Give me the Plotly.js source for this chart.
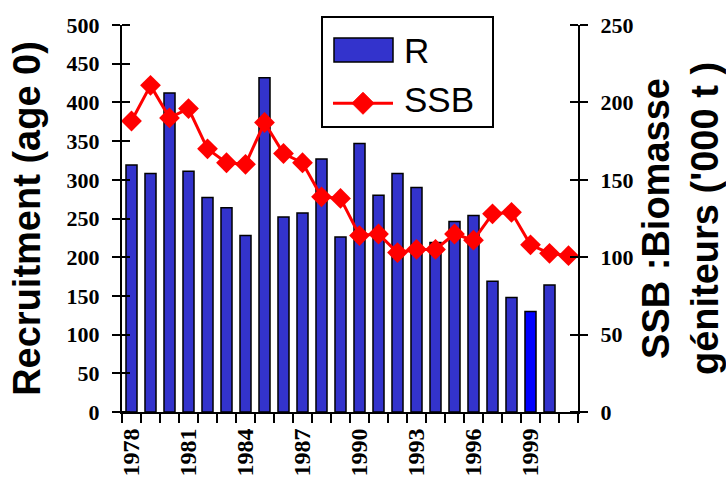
<!DOCTYPE html>
<html>
<head>
<meta charset="utf-8">
<script src="https://cdn.plot.ly/plotly-3.0.1.min.js"></script>
<style>html,body{margin:0;padding:0;background:#fff;}#chart{width:726px;height:477px;}</style>
</head>
<body>
<div id="chart"></div>
<script>
// Recruitment (age 0), 1978-2000
const recruitYears = [1978,1979,1980,1981,1982,1983,1984,1985,1986,1987,1988,1989,1990,1991,1992,1993,1994,1995,1996,1997,1998,1999,2000];
const recruitValues = [319,308,412,311,277,264,228,432,252,257,327,226,347,280,308,290,219,246,254,169,148,130,164];
// SSB ('000 t), 1978-2001
const ssbYears = [1978,1979,1980,1981,1982,1983,1984,1985,1986,1987,1988,1989,1990,1991,1992,1993,1994,1995,1996,1997,1998,1999,2000,2001];
const ssbValues = [188,211,190,196,170,161,160,187,167,161,139,138,114,115,103,105,105,115,111,128,129,108,102.5,101];
const xTickVals = [1978,1981,1984,1987,1990,1993,1996,1999];
const xTickText = ['1978','1981','1984','1987','1990','1993','1996','1999'];
const seriesNames = ['R', 'SSB'];
const barColors = recruitYears.map(y => y === 1999 ? '#0000ff' : '#3333cc');

const BAR_COLOR = '#3333cc';
const LINE_COLOR = '#ff0000';
const tickFont = {family: '"Liberation Serif", "Times New Roman", serif', size: 22, color: '#000', weight: 'bold'};
const xTickFont = {family: '"Liberation Serif", "Times New Roman", serif', size: 24, color: '#000', weight: 'bold'};
const titleFont = {family: '"Liberation Sans", Arial, sans-serif', size: 38, color: '#000', weight: 'bold'};
const legendFont = {family: '"Liberation Sans", Arial, sans-serif', size: 35, color: '#000'};

const traces = [
  {
    type: 'bar', name: seriesNames[0], x: recruitYears, y: recruitValues,
    marker: {color: barColors, line: {color: '#000', width: 1.5}},
    width: 0.58, yaxis: 'y'
  },
  {
    type: 'scatter', mode: 'lines+markers', name: seriesNames[1], x: ssbYears, y: ssbValues,
    line: {color: LINE_COLOR, width: 3},
    marker: {symbol: 'diamond', size: 16, color: LINE_COLOR},
    yaxis: 'y2'
  }
];

// Legend drawn as a framed key (paper coordinates)
const shapes = [
  {type: 'rect', xref: 'paper', yref: 'paper', x0: 0.4386, x1: 0.8136, y0: 0.7364, y1: 1.0207,
   fillcolor: '#fff', line: {color: '#000', width: 2}, layer: 'above'},
  {type: 'rect', xref: 'paper', yref: 'paper', x0: 0.4649, x1: 0.5943, y0: 0.9044, y1: 0.9664,
   fillcolor: BAR_COLOR, line: {color: '#000', width: 1.5}, layer: 'above'},
  {type: 'line', xref: 'paper', yref: 'paper', x0: 0.4627, x1: 0.5943, y0: 0.7977, y1: 0.7977,
   line: {color: LINE_COLOR, width: 3}, layer: 'above'},
  {type: 'path', xref: 'paper', yref: 'paper', xsizemode: 'pixel', ysizemode: 'pixel',
   xanchor: 0.5285, yanchor: 0.7977, path: 'M-11,0 L0,11 L11,0 L0,-11 Z',
   fillcolor: LINE_COLOR, line: {color: LINE_COLOR, width: 1}, layer: 'above'}
];
const annotations = [
  {xref: 'paper', yref: 'paper', x: 0.6140, y: 0.9354, xanchor: 'left', yanchor: 'middle',
   text: seriesNames[0], showarrow: false, font: legendFont},
  {xref: 'paper', yref: 'paper', x: 0.6140, y: 0.8075, xanchor: 'left', yanchor: 'middle',
   text: seriesNames[1], showarrow: false, font: legendFont}
];

const layout = {
  width: 726, height: 477,
  margin: {l: 122, r: 148, t: 25, b: 65, pad: 0},
  paper_bgcolor: '#fff', plot_bgcolor: '#fff',
  showlegend: false,
  shapes: shapes,
  annotations: annotations,
  xaxis: {
    type: 'linear', range: [1977.5, 2001.5],
    tickvals: xTickVals, ticktext: xTickText, ticks: '', tickangle: -90,
    tickfont: xTickFont, ticklabelstandoff: 5,
    minor: {ticks: 'outside', tick0: 1977.5, dtick: 1, ticklen: 9, tickwidth: 2, tickcolor: '#000', showgrid: false},
    showline: true, linecolor: '#000', linewidth: 2,
    showgrid: false, zeroline: false, fixedrange: true
  },
  yaxis: {
    range: [0, 500], dtick: 50, tick0: 0,
    ticks: 'outside', ticklen: 8, tickwidth: 2, tickcolor: '#000',
    minor: {ticks: 'inside', tick0: -0.01, dtick: 50, ticklen: 8, tickwidth: 2, tickcolor: '#000', showgrid: false},
    tickfont: tickFont, ticklabelstandoff: 8,
    showline: true, linecolor: '#000', linewidth: 2,
    showgrid: false, zeroline: false,
    title: {text: 'Recruitment (age 0)', font: titleFont, standoff: 14}
  },
  yaxis2: {
    overlaying: 'y', side: 'right',
    range: [0, 250], dtick: 50, tick0: 0,
    ticks: 'outside', ticklen: 8, tickwidth: 2, tickcolor: '#000',
    minor: {ticks: 'inside', tick0: -0.01, dtick: 50, ticklen: 8, tickwidth: 2, tickcolor: '#000', showgrid: false},
    tickfont: tickFont, ticklabelstandoff: 8,
    showline: true, linecolor: '#000', linewidth: 2,
    showgrid: false, zeroline: false,
    title: {text: 'SSB :Biomasse<br>géniteurs (\'000 t )', font: titleFont, standoff: 10}
  }
};

Plotly.newPlot('chart', traces, layout, {displayModeBar: false, staticPlot: true});
</script>
</body>
</html>
